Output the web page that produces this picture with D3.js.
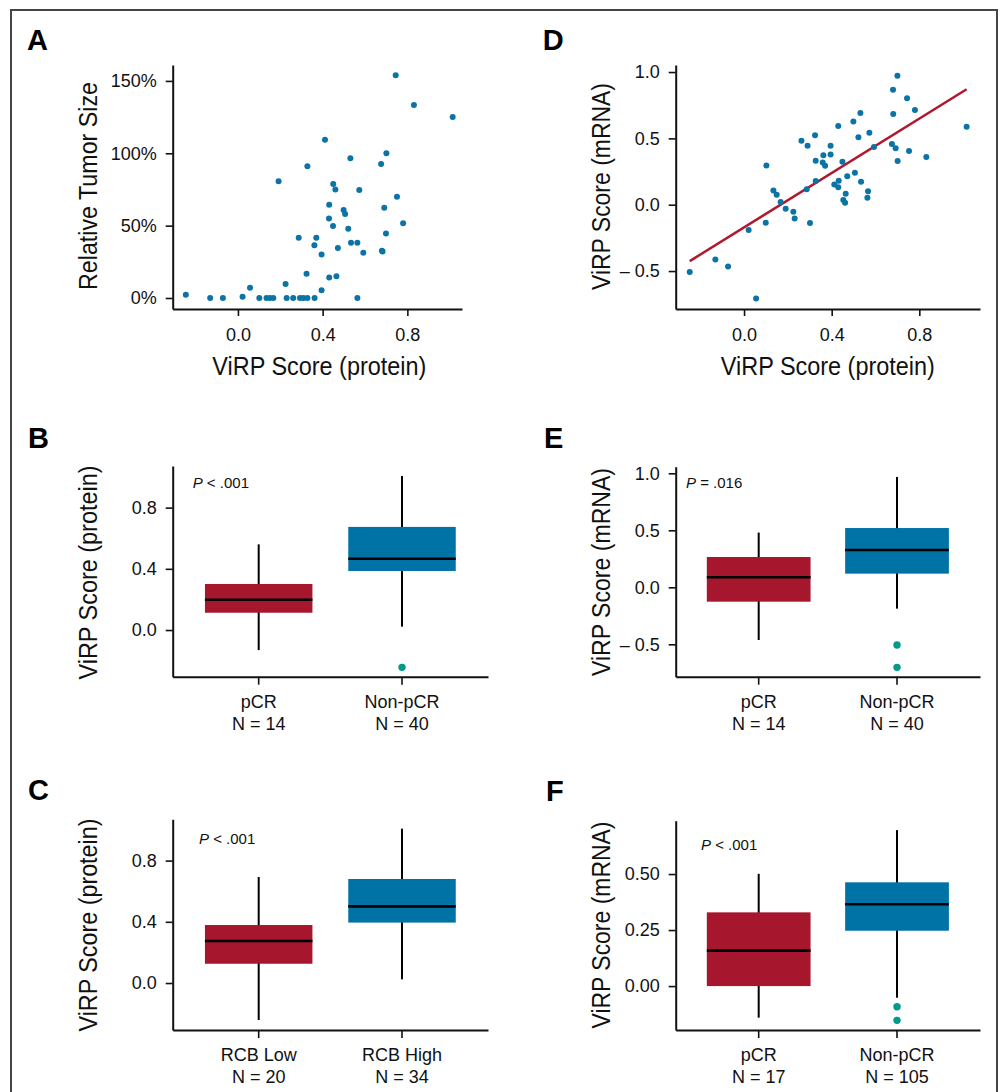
<!DOCTYPE html>
<html>
<head>
<meta charset="utf-8">
<script src="https://cdn.jsdelivr.net/npm/d3@7"></script>
<style>
  body { margin: 0; background: #fff; }
  svg { display: block; font-family: "Liberation Sans", Arial, sans-serif; }
  .domain { stroke: #111; stroke-width: 2; }
  .tick line { stroke: #111; stroke-width: 1.6; }
  .tick text { font-family: "Liberation Sans", Arial, sans-serif; font-size: 18px; fill: #111; }
  .title { font-family: "Liberation Sans Narrow", "Arial Narrow", "Liberation Sans", sans-serif; font-size: 25px; fill: #111; }
  .letter { font-family: "Liberation Sans", Arial, sans-serif; font-size: 29px; font-weight: bold; fill: #000; }
  .cat { font-size: 18px; fill: #111; }
  .pval { font-size: 15px; fill: #111; }
</style>
</head>
<body>
<svg id="fig" width="1001" height="1092"></svg>
<script>
// ---- data ----

// A: ViRP score (protein) vs relative tumor size (%)
const aProtein = [-0.246,-0.131,-0.071,0.022,0.057,0.101,0.135,0.151,0.167,0.225,0.230,0.261,0.293,0.309,0.328,0.362,
  0.192,0.328,0.287,0.324,0.361,0.370,0.395,0.395,0.411,0.431,0.465,0.431,0.430,0.449,0.450,0.460,0.472,0.499,0.506,
  0.521,0.531,0.534,0.564,0.564,0.573,0.592,0.676,0.680,0.683,0.691,0.699,0.701,0.745,0.751,0.780,0.831,1.014]
const aTumor = [2.3,0,0,0.9,7.1,0,0,0,0,9.7,0,0,0,0,0,0,
  80.6,91,41.7,16.8,36.4,41.7,5.3,30,109.4,14.1,15,64.5,55,49.8,78.8,74.9,34.6,60.8,58.1,
  47.9,96.5,38.2,38.2,0,74.7,31.3,92.6,32.7,32.2,62.4,44.5,100,153.9,70,51.6,133.4,125.1]

// D: ViRP score (protein) vs ViRP score (mRNA)
const dProtein = [-0.248,-0.131,-0.073,0.021,0.055,0.099,0.102,0.134,0.149,0.167,0.190,0.225,0.231,0.262,0.286,0.290,
  0.301,0.324,0.327,0.327,0.359,0.362,0.370,0.395,0.395,0.412,0.430,0.432,0.430,0.449,0.453,0.461,0.464,0.471,0.499,
  0.506,0.522,0.531,0.534,0.566,0.563,0.572,0.593,0.675,0.680,0.681,0.692,0.700,0.701,0.744,0.753,0.780,0.832,1.016]
const dMrna = [-0.508,-0.412,-0.465,-0.191,-0.706,-0.136,0.296,0.108,0.075,0.020,-0.030,-0.053,-0.103,0.482,0.116,0.445,
  -0.138,0.523,0.332,0.178,0.319,0.372,0.294,0.445,0.379,0.153,0.593,0.181,0.131,0.324,0.035,0.015,0.083,0.214,0.628,
  0.241,0.508,0.691,0.173,0.101,0.053,0.543,0.435,0.457,0.867,0.683,0.425,0.972,0.329,0.802,0.405,0.714,0.359,0.588]
const dFit = { slope: 1.025, intercept: -0.171 }

// box plots: [whisker low, q1, median, q3, whisker high]
const bCats = ['pCR', 'Non-pCR'], bN = [14, 40]
const bStats = [[-0.131, 0.113, 0.198, 0.301, 0.560], [0.022, 0.386, 0.466, 0.674, 1.007]]
const bOut = [[], [-0.244]]

const cCats = ['RCB Low', 'RCB High'], cN = [20, 34]
const cStats = [[-0.242, 0.126, 0.275, 0.379, 0.693], [0.024, 0.395, 0.501, 0.680, 1.009]]
const cOut = [[], []]

const eCats = ['pCR', 'Non-pCR'], eN = [14, 40]
const eStats = [[-0.462, -0.126, 0.088, 0.266, 0.480], [-0.187, 0.120, 0.327, 0.520, 0.968]]
const eOut = [[], [-0.506, -0.702]]

const fCats = ['pCR', 'Non-pCR'], fN = [17, 105]
const fStats = [[-0.141, 0.0, 0.158, 0.329, 0.501], [-0.052, 0.247, 0.365, 0.463, 0.696]]
const fOut = [[], [-0.092, -0.153]]

// ---- colours ----
const dotBlue = '#0b73a5'
const boxColors = ['#a6172e', '#0073a6']
const outColor = '#00998a'
const fitColor = '#b0182f'

const svg = d3.select('#fig')

// outer frame (bottom runs off the page)
svg.append('rect')
  .attr('x', 11).attr('y', 10)
  .attr('width', 986).attr('height', 1120)
  .attr('fill', 'none').attr('stroke', '#444').attr('stroke-width', 2)

const fmt1 = v => v < 0 ? '\u2013 ' + Math.abs(v).toFixed(1) : v.toFixed(1)
const fmt2 = v => v < 0 ? '\u2013 ' + Math.abs(v).toFixed(2) : v.toFixed(2)

function letter(txt, x, y) {
  svg.append('text').attr('class', 'letter').attr('x', x).attr('y', y).text(txt)
}

function yTitle(txt, x, cy, len) {
  svg.append('text').attr('class', 'title')
    .attr('transform', `translate(${x},${cy}) rotate(-90)`)
    .attr('text-anchor', 'middle')
    .attr('textLength', len).attr('lengthAdjust', 'spacingAndGlyphs')
    .text(txt)
}

function pText(rest, x, y) {
  const t = svg.append('text').attr('class', 'pval').attr('x', x).attr('y', y)
  t.append('tspan').attr('font-style', 'italic').text('P')
  t.append('tspan').text(rest)
}

// scatter panel
function scatter(o) {
  const x = d3.scaleLinear().domain(o.xDomain).range([o.left, o.right])
  const y = d3.scaleLinear().domain(o.yDomain).range([o.bottom, o.top])

  svg.append('g')
    .attr('transform', `translate(0,${o.bottom})`)
    .call(d3.axisBottom(x).tickValues([0, 0.4, 0.8]).tickFormat(fmt1)
      .tickSize(7).tickPadding(12).tickSizeOuter(0))

  svg.append('g')
    .attr('transform', `translate(${o.left},0)`)
    .call(d3.axisLeft(y).tickValues(o.yTicks).tickFormat(o.yFormat)
      .tickSize(7).tickPadding(9).tickSizeOuter(0))

  if (o.fit) {
    const ext = d3.extent(o.xs)
    svg.append('line')
      .attr('x1', x(ext[0])).attr('y1', y(o.fit.intercept + o.fit.slope * ext[0]))
      .attr('x2', x(ext[1])).attr('y2', y(o.fit.intercept + o.fit.slope * ext[1]))
      .attr('stroke', fitColor).attr('stroke-width', 2.5)
  }

  svg.append('g').selectAll('circle')
    .data(o.xs.map((v, i) => [v, o.ys[i]]))
    .enter().append('circle')
    .attr('cx', d => x(d[0])).attr('cy', d => y(d[1]))
    .attr('r', 3).attr('fill', dotBlue)

  svg.append('text').attr('class', 'title')
    .attr('x', (o.left + o.right) / 2 + o.xTitleShift).attr('y', 375)
    .attr('text-anchor', 'middle')
    .attr('textLength', 214).attr('lengthAdjust', 'spacingAndGlyphs')
    .text('ViRP Score (protein)')
}

// box plot panel
function boxplot(o) {
  const x = d3.scaleBand().domain(o.cats).range([o.left, o.right])
    .paddingInner(0.25).paddingOuter(0.225)
  const y = d3.scaleLinear().domain(o.yDomain).range([o.bottom, o.top])

  svg.append('g')
    .attr('transform', `translate(0,${o.bottom})`)
    .call(d3.axisBottom(x).tickFormat('').tickSize(8).tickSizeOuter(0))

  svg.append('g')
    .attr('transform', `translate(${o.left},0)`)
    .call(d3.axisLeft(y).tickValues(o.yTicks).tickFormat(o.yFormat)
      .tickSize(7).tickPadding(9).tickSizeOuter(0))

  o.cats.forEach((c, i) => {
    const s = o.stats[i]
    const cx = x(c) + x.bandwidth() / 2
    svg.append('line')
      .attr('x1', cx).attr('x2', cx).attr('y1', y(s[0])).attr('y2', y(s[4]))
      .attr('stroke', '#000').attr('stroke-width', 2)
    svg.append('rect')
      .attr('x', x(c)).attr('width', x.bandwidth())
      .attr('y', y(s[3])).attr('height', y(s[1]) - y(s[3]))
      .attr('fill', boxColors[i])
    svg.append('line')
      .attr('x1', x(c)).attr('x2', x(c) + x.bandwidth())
      .attr('y1', y(s[2])).attr('y2', y(s[2]))
      .attr('stroke', '#000').attr('stroke-width', 2.6)
    o.out[i].forEach(v => {
      svg.append('circle').attr('cx', cx).attr('cy', y(v)).attr('r', 3.7).attr('fill', outColor)
    })
    svg.append('text').attr('class', 'cat').attr('x', cx).attr('y', o.bottom + 31)
      .attr('text-anchor', 'middle').text(c)
    svg.append('text').attr('class', 'cat').attr('x', cx).attr('y', o.bottom + 53)
      .attr('text-anchor', 'middle').text('N = ' + o.n[i])
  })
}

// ---- A ----
letter('A', 27, 50)
scatter({
  left: 172.7, right: 462, top: 65, bottom: 309,
  xDomain: [-0.308, 1.058], yDomain: [-7.6, 161],
  yTicks: [0, 50, 100, 150], yFormat: d => d + '%',
  xs: aProtein, ys: aTumor, xTitleShift: 2
})
yTitle('Relative Tumor Size', 96.7, 186, 208)

// ---- D ----
letter('D', 542.7, 50)
scatter({
  left: 675.7, right: 980, top: 65, bottom: 309,
  xDomain: [-0.312, 1.077], yDomain: [-0.786, 1.053],
  yTicks: [-0.5, 0, 0.5, 1.0], yFormat: fmt1,
  xs: dProtein, ys: dMrna, fit: dFit, xTitleShift: 0
})
yTitle('ViRP Score (mRNA)', 610, 186.5, 207)

// ---- B ----
letter('B', 28, 448)
boxplot({
  left: 172.7, right: 488, top: 466, bottom: 676.7,
  yDomain: [-0.305, 1.072], yTicks: [0, 0.4, 0.8], yFormat: fmt1,
  cats: bCats, n: bN, stats: bStats, out: bOut
})
yTitle('ViRP Score (protein)', 96.7, 572.5, 214)
pText(' < .001', 192.7, 488)

// ---- E ----
letter('E', 544, 448)
boxplot({
  left: 675.7, right: 980, top: 466.7, bottom: 676.7,
  yDomain: [-0.784, 1.058], yTicks: [-0.5, 0, 0.5, 1.0], yFormat: fmt1,
  cats: eCats, n: eN, stats: eStats, out: eOut
})
yTitle('ViRP Score (mRNA)', 610, 572, 208)
pText(' = .016', 686, 487.7)

// ---- C ----
letter('C', 28, 800)
boxplot({
  left: 172.7, right: 488, top: 819.3, bottom: 1030,
  yDomain: [-0.307, 1.070], yTicks: [0, 0.4, 0.8], yFormat: fmt1,
  cats: cCats, n: cN, stats: cStats, out: cOut
})
yTitle('ViRP Score (protein)', 96.7, 925, 213)
pText(' < .001', 199, 844)

// ---- F ----
letter('F', 546, 801)
boxplot({
  left: 675.7, right: 980, top: 820.7, bottom: 1030,
  yDomain: [-0.196, 0.738], yTicks: [0, 0.25, 0.5], yFormat: fmt2,
  cats: fCats, n: fN, stats: fStats, out: fOut
})
yTitle('ViRP Score (mRNA)', 610, 925, 207)
pText(' < .001', 701, 850)
</script>
</body>
</html>
